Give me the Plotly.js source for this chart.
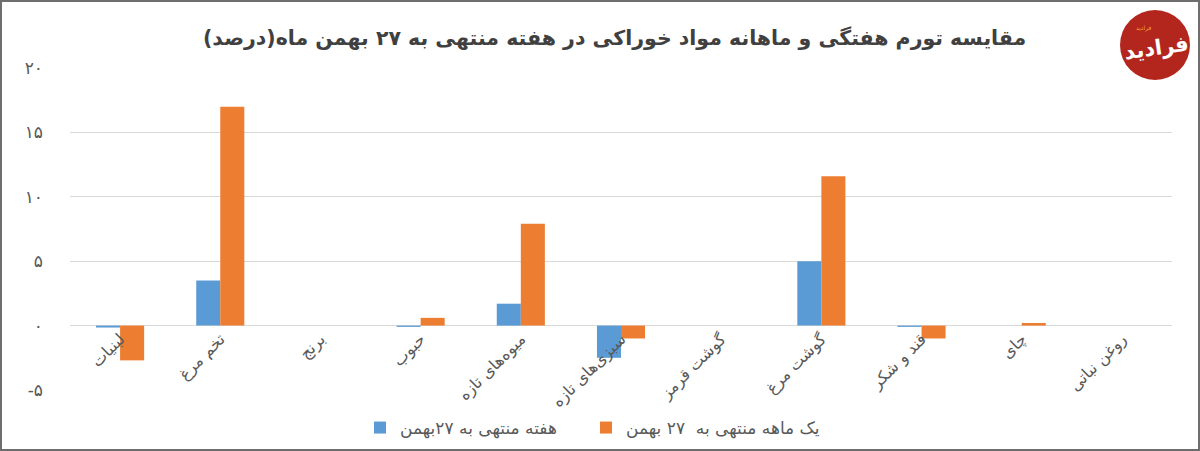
<!DOCTYPE html>
<html>
<head>
<meta charset="utf-8">
<script src="https://cdn.plot.ly/plotly-3.0.1.min.js"></script>
<style>
html,body{margin:0;padding:0;background:#fff;}
#wrap{position:relative;width:1200px;height:451px;}
#chart{width:1200px;height:451px;}
#frame{position:absolute;left:0;top:0;width:1196px;height:447px;border:2px solid #6e6e6e;pointer-events:none;}
</style>
</head>
<body>
<div id="wrap"><div id="chart"></div><div id="frame"></div></div>
<script>
const categories = ['لبنیات','تخم مرغ','برنج','حبوب','میوه‌های تازه','سبزی‌های تازه','گوشت قرمز','گوشت مرغ','قند و شکر','چای','روغن نباتی'];
const weekly = [-0.15, 3.5, 0, -0.1, 1.7, -2.5, 0, 5.0, -0.1, 0, 0];
const monthly = [-2.7, 17.0, 0, 0.6, 7.9, -1.0, 0, 11.6, -1.0, 0.2, 0];
const seriesNames = ['هفته منتهی به ۲۷بهمن', 'یک ماهه منتهی به  ۲۷ بهمن'];
const yTickVals = [-5, 0, 5, 10, 15, 20];
const yTickText = ['-۵', '۰', '۵', '۱۰', '۱۵', '۲۰'];
const titleText = 'مقایسه تورم هفتگی و ماهانه مواد خوراکی در هفته منتهی به ۲۷ بهمن ماه(درصد)\u200F';

const font = '"DejaVu Sans", "Noto Sans", sans-serif';

const traces = [
  {type:'bar', name:seriesNames[0], x:categories, y:weekly, marker:{color:'#5B9BD5'}, legend:'legend'},
  {type:'bar', name:seriesNames[1], x:categories, y:monthly, marker:{color:'#ED7D31'}, legend:'legend2'}
];

const W=1200, H=451;
const L=70, R=1172, T=68, B=390;
const px = v => (v-L)/(R-L);
const py = v => (B-v)/(B-T);
const cx = v => v/W;
const cy = v => (H-v)/H;
const yMin = -5, yMax = 20;

const legendCommon = {orientation:'h', xref:'container', yref:'container', yanchor:'middle', xanchor:'left',
  font:{size:17, color:'#595959'}, itemwidth:30, bgcolor:'rgba(0,0,0,0)', borderwidth:0};

const layout = {
  width:W, height:H,
  margin:{l:L, r:W-R, t:T, b:H-B, pad:0},
  paper_bgcolor:'#ffffff', plot_bgcolor:'#ffffff',
  font:{family:font, color:'#595959', size:13},
  barmode:'group', bargap:0.52, bargroupgap:0,
  showlegend:true,
  legend:Object.assign({}, legendCommon, {x:cx(360), y:cy(428)}),
  legend2:Object.assign({}, legendCommon, {x:cx(586), y:cy(428)}),
  xaxis:{type:'category', tickangle:-45, showgrid:false, zeroline:false, showline:false,
         anchor:'free', position:(0 - yMin)/(yMax - yMin), automargin:false,
         ticks:'', tickfont:{size:16, color:'#595959'}, fixedrange:true},
  yaxis:{range:[yMin,yMax], tickvals:yTickVals, ticktext:yTickText, showgrid:true, gridcolor:'#D9D9D9',
         gridwidth:1, zeroline:true, zerolinecolor:'#D9D9D9', zerolinewidth:1, showline:false, automargin:false,
         ticks:'', ticklabelstandoff:26, tickfont:{size:17, color:'#595959'}, fixedrange:true},
  annotations:[
    {xref:'paper', yref:'paper', x:px(614), y:py(38), xanchor:'center', yanchor:'middle',
     text:titleText, showarrow:false, font:{size:20.5, color:'#404040', family:'"DejaVu Sans", sans-serif', weight:'bold'}},
    {xref:'paper', yref:'paper', x:px(1156), y:py(48), xanchor:'center', yanchor:'middle',
     text:'<b>فرادید</b>', showarrow:false, textangle:-8, font:{size:21, color:'#ffffff'}},
    {xref:'paper', yref:'paper', x:px(1143), y:py(28), xanchor:'center', yanchor:'middle',
     text:'فرادید', showarrow:false, font:{size:6, color:'#F3A53A'}}
  ],
  shapes:[
    {type:'circle', xref:'paper', yref:'paper', x0:px(1120), x1:px(1190), y0:py(80), y1:py(10),
     fillcolor:'#B3261E', line:{width:0}, layer:'above'}
  ]
};

Plotly.newPlot('chart', traces, layout, {displayModeBar:false, staticPlot:true});
</script>
</body>
</html>
